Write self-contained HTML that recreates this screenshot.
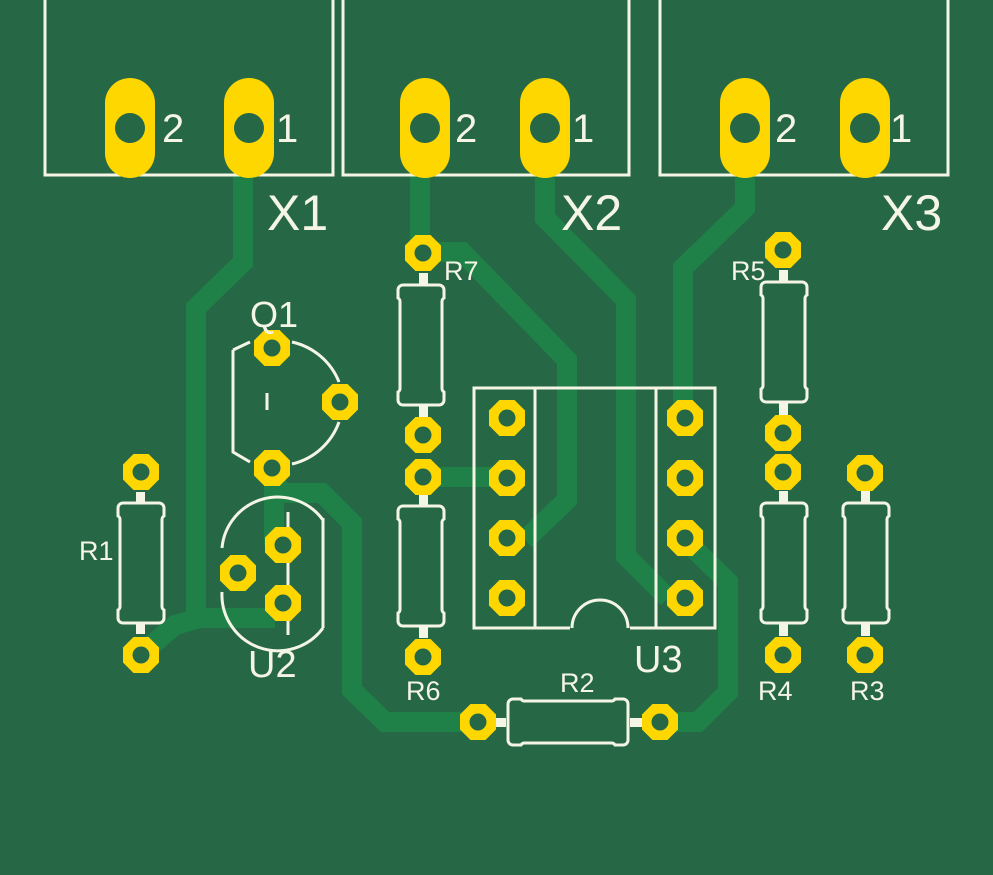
<!DOCTYPE html>
<html><head><style>html,body{margin:0;padding:0;background:#266846}svg{display:block}</style></head>
<body>
<svg width="993" height="875" viewBox="0 0 993 875" xmlns="http://www.w3.org/2000/svg">
<defs>
<g id="p"><polygon points="-7.5,-18 7.5,-18 18,-7.5 18,7.5 7.5,18 -7.5,18 -18,7.5 -18,-7.5" fill="#FFD700"/><circle r="8.5" fill="#266846"/></g>
<g id="o"><rect x="-25" y="-50" width="50" height="100" rx="25" fill="#FFD700"/><circle r="15" fill="#266846"/></g>
<g id="rv" fill="none" stroke="#F5F5E6" stroke-width="3">
<path d="M-18,-60 H18 a5,5 0 0 1 5,5 V-47 a4,4 0 0 0 -2,3 V44 a4,4 0 0 0 2,3 V55 a5,5 0 0 1 -5,5 H-18 a5,5 0 0 1 -5,-5 V47 a4,4 0 0 0 2,-3 V-44 a4,4 0 0 0 -2,-3 V-55 a5,5 0 0 1 5,-5 Z"/>
</g>
</defs>
<rect width="993" height="875" fill="#266846"/>
<g fill="none" stroke="#1f8148" stroke-width="20" stroke-linejoin="miter">
<path d="M243,170 V262 L196,308 V618 H275"/>
<path d="M140,655 L175,625 L200,618"/>
<path d="M274,465 V545"/>
<path d="M274,480 L282,493 H322 L352,523 V690 L385,722 H478"/>
<path d="M420,170 V253"/>
<path d="M423,252 H462 L567,360 V500 L525,540"/>
<path d="M423,477 H507"/>
<path d="M545,170 V218 L626,300 V556 L668,598"/>
<path d="M690,545 L728,582 V692 L698,722 H660"/>
<path d="M745,170 V208 L683,268 V410"/>
</g>
<g fill="none" stroke="#F5F5E6" stroke-width="3">
<path d="M45,0 V175 H333 V0"/>
<path d="M343,0 V175 H629 V0"/>
<path d="M660,0 V175 H948 V0"/>
<path d="M233,350 V452 L250,462 M233,350 L250,342"/>
<path d="M292,342 A66,66 0 0 1 339,382 M339,422 A66,66 0 0 1 292,464"/>
<path d="M267,393 V410"/>
<path d="M222,548 A56,56 0 0 1 323,520 M222,592 A56,56 0 0 0 323,628 M323,518 V628"/>
<path d="M288,512 V528 M288,560 V590 M288,618 V635"/>
<rect x="474" y="388" width="241" height="240"/>
<path d="M535,388 V628 M656,388 V628"/>
</g>
<rect x="570" y="626" width="60" height="4" fill="#266846"/>
<path d="M572,628 A28,28 0 0 1 628,628" fill="none" stroke="#F5F5E6" stroke-width="3"/>
<g fill="#F5F5E6">
<rect x="136" y="492" width="9" height="12"/><rect x="136" y="622" width="9" height="12"/>
<rect x="419" y="273" width="9" height="12"/><rect x="419" y="405" width="9" height="12"/>
<rect x="419" y="495" width="9" height="12"/><rect x="419" y="626" width="9" height="12"/>
<rect x="779" y="270" width="9" height="12"/><rect x="779" y="403" width="9" height="12"/>
<rect x="779" y="491" width="9" height="12"/><rect x="779" y="624" width="9" height="12"/>
<rect x="861" y="491" width="9" height="12"/><rect x="861" y="624" width="9" height="12"/>
<rect x="494" y="718" width="12" height="9"/><rect x="630" y="718" width="12" height="9"/>
</g>
<use href="#rv" x="141" y="563"/>
<use href="#rv" x="421" y="345"/>
<use href="#rv" x="421" y="566"/>
<use href="#rv" x="784" y="342"/>
<use href="#rv" x="784" y="563"/>
<use href="#rv" x="866" y="563"/>
<use href="#rv" transform="translate(568,722) rotate(90)"/>
<use href="#o" x="130" y="128"/><use href="#o" x="249" y="128"/>
<use href="#o" x="425" y="128"/><use href="#o" x="545" y="128"/>
<use href="#o" x="745" y="128"/><use href="#o" x="865" y="128"/>
<g>
<use href="#p" x="272" y="348"/><use href="#p" x="340" y="402"/><use href="#p" x="272" y="468"/>
<use href="#p" x="283" y="545"/><use href="#p" x="238" y="573"/><use href="#p" x="283" y="603"/>
<use href="#p" x="141" y="472"/><use href="#p" x="141" y="655"/>
<use href="#p" x="423" y="253"/><use href="#p" x="423" y="435"/><use href="#p" x="423" y="477"/><use href="#p" x="423" y="657"/>
<use href="#p" x="783" y="250"/><use href="#p" x="783" y="433"/><use href="#p" x="783" y="472"/><use href="#p" x="783" y="655"/>
<use href="#p" x="865" y="473"/><use href="#p" x="865" y="655"/>
<use href="#p" x="478" y="722"/><use href="#p" x="660" y="722"/>
<use href="#p" x="507" y="418"/><use href="#p" x="507" y="478"/><use href="#p" x="507" y="538"/><use href="#p" x="507" y="598"/>
<use href="#p" x="685" y="418"/><use href="#p" x="685" y="478"/><use href="#p" x="685" y="538"/><use href="#p" x="685" y="598"/>
</g>
<g fill="#F5F5E6" font-family="Liberation Sans, sans-serif">
<text x="162" y="142" font-size="40">2</text><text x="276" y="142" font-size="40">1</text>
<text x="455" y="142" font-size="40">2</text><text x="572" y="142" font-size="40">1</text>
<text x="775" y="142" font-size="40">2</text><text x="890" y="142" font-size="40">1</text>
<text x="267" y="230" font-size="50">X1</text>
<text x="561" y="230" font-size="50">X2</text>
<text x="881" y="230" font-size="50">X3</text>
<text x="250" y="327" font-size="36">Q1</text>
<text x="248" y="677" font-size="38">U2</text>
<text x="634" y="672" font-size="38">U3</text>
<g font-size="27">
<text x="79" y="560">R1</text>
<text x="444" y="280">R7</text>
<text x="406" y="700">R6</text>
<text x="731" y="280">R5</text>
<text x="758" y="700">R4</text>
<text x="850" y="700">R3</text>
<text x="560" y="692">R2</text>
</g>
</g>
</svg>
</body></html>
